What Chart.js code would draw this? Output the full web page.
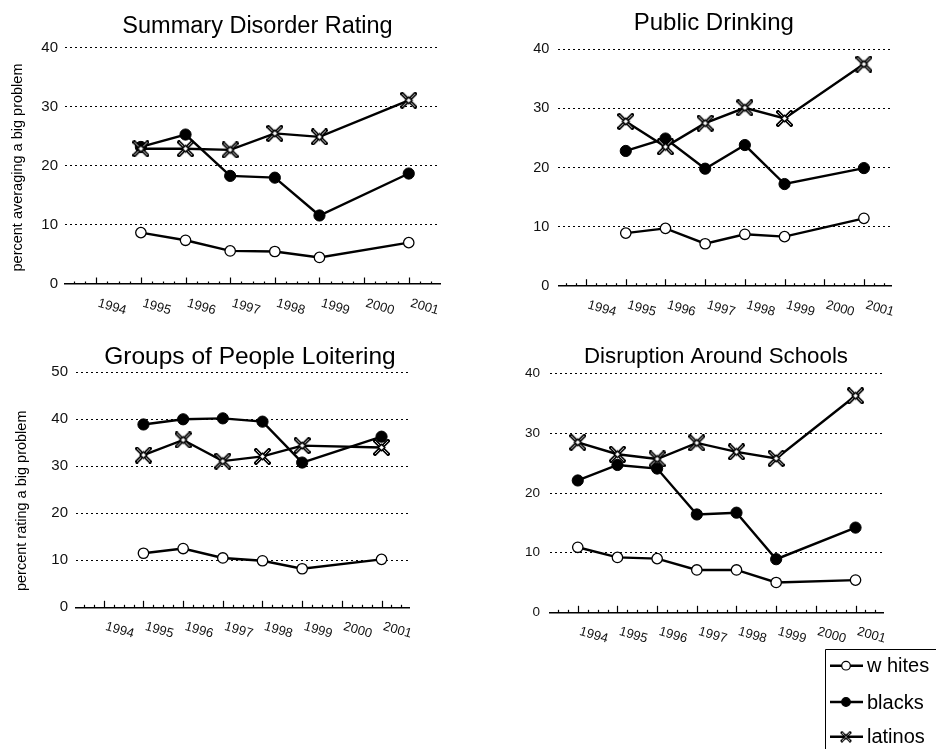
<!DOCTYPE html>
<html>
<head>
<meta charset="utf-8">
<script src="https://cdn.jsdelivr.net/npm/chart.js@4.4.1/dist/chart.umd.min.js"></script>
<style>
  html, body { margin: 0; padding: 0; background: #fff; }
  body { width: 936px; height: 749px; position: relative; overflow: hidden; }
  canvas { position: absolute; }
</style>
</head>
<body>
<canvas id="c1" width="468" height="330" style="left:0;top:0"></canvas>
<canvas id="c2" width="468" height="330" style="left:468px;top:0"></canvas>
<canvas id="c3" width="468" height="330" style="left:0;top:330px"></canvas>
<canvas id="c4" width="468" height="419" style="left:468px;top:330px"></canvas>
<script>
// ---------------- DATA ----------------
const tickYears = [1994, 1995, 1996, 1997, 1998, 1999, 2000, 2001];
const tickLabels = ['1994', '1995', '1996', '1997', '1998', '1999', '2000', '2001'];
const seriesNames = ['w hites', 'blacks', 'latinos'];

const yearsMain = [1995, 1996, 1997, 1998, 1999, 2001];
const yearsSchools = [1994, 1995, 1996, 1997, 1998, 1999, 2001];

const disorderWhites  = [8.7, 7.4, 5.6, 5.5, 4.5, 7.0];
const disorderBlacks  = [23.2, 25.3, 18.3, 18.0, 11.6, 18.7];
const disorderLatinos = [22.9, 22.9, 22.7, 25.5, 24.9, 31.1];

const drinkingWhites  = [8.9, 9.7, 7.1, 8.7, 8.3, 11.4];
const drinkingBlacks  = [22.8, 24.9, 19.8, 23.8, 17.2, 19.9];
const drinkingLatinos = [27.8, 23.5, 27.5, 30.1, 28.3, 37.5];

const loiterWhites  = [11.5, 12.5, 10.5, 9.9, 8.2, 10.2];
const loiterBlacks  = [38.9, 40.0, 40.2, 39.5, 30.8, 36.3];
const loiterLatinos = [32.4, 35.6, 31.1, 32.1, 34.4, 34.0];

const schoolWhites  = [10.9, 9.2, 9.0, 7.1, 7.1, 5.0, 5.4];
const schoolBlacks  = [22.1, 24.7, 24.1, 16.4, 16.7, 8.9, 14.2];
const schoolLatinos = [28.5, 26.5, 25.7, 28.4, 26.9, 25.8, 36.3];

// ---------------- STYLE ----------------
const FONT = "'Liberation Sans', Arial, Helvetica, sans-serif";

function crossMarker(size, w) {
  const c = document.createElement('canvas');
  c.width = c.height = size;
  const g = c.getContext('2d');
  const m = size / 2, r = size / 2 - 2;
  g.lineCap = 'square';
  g.beginPath();
  g.moveTo(m - r, m - r); g.lineTo(m + r, m + r);
  g.moveTo(m + r, m - r); g.lineTo(m - r, m + r);
  g.strokeStyle = '#000'; g.lineWidth = w; g.stroke();
  g.lineCap = 'butt';
  g.strokeStyle = '#fff'; g.lineWidth = 0.8; g.stroke();
  const d = r * 0.5;
  g.beginPath();
  g.moveTo(m, m - d); g.lineTo(m + d, m); g.lineTo(m, m + d); g.lineTo(m - d, m); g.closePath();
  g.fillStyle = '#fff'; g.fill();
  g.strokeStyle = '#000'; g.lineWidth = 1.5; g.stroke();
  return c;
}
const latMarker = crossMarker(17, 3.8);
const latMarkerSmall = crossMarker(12, 2.8);

function makeDatasets(years, w, b, l) {
  const pts = arr => years.map((x, i) => ({ x: x, y: arr[i] }));
  return [
    { label: seriesNames[0], data: pts(w), order: 2, borderColor: '#000', borderWidth: 2.4,
      pointStyle: 'circle', pointRadius: 5.2, pointBackgroundColor: '#fff', pointBorderColor: '#000', pointBorderWidth: 1.3 },
    { label: seriesNames[1], data: pts(b), order: 1, borderColor: '#000', borderWidth: 2.4,
      pointStyle: 'circle', pointRadius: 5.6, pointBackgroundColor: '#000', pointBorderColor: '#000', pointBorderWidth: 1 },
    { label: seriesNames[2], data: pts(l), order: 0, borderColor: '#000', borderWidth: 2.4,
      pointStyle: latMarker, pointRadius: 8 }
  ];
}

const decorPlugin = {
  id: 'decor',
  afterDraw(chart, args, o) {
    const ctx = chart.ctx;
    const xs = chart.scales.x, area = chart.chartArea;
    ctx.save();
    // x axis ticks (upward): majors at years, minors at quarters
    ctx.strokeStyle = '#000';
    ctx.lineWidth = 1.2;
    for (let v = Math.ceil(xs.min * 4) / 4; v <= xs.max + 1e-9; v += 0.25) {
      const px = Math.round(xs.getPixelForValue(v)) + 0.5;
      const major = Math.abs(v - Math.round(v)) < 1e-6;
      ctx.beginPath();
      ctx.moveTo(px, area.bottom);
      ctx.lineTo(px, area.bottom - (major ? 6.5 : 2.5));
      ctx.stroke();
    }
    // rotated x tick labels
    ctx.fillStyle = '#111';
    ctx.font = o.xFont + 'px ' + FONT;
    ctx.textAlign = 'left';
    ctx.textBaseline = 'middle';
    tickYears.forEach((yr, i) => {
      const px = xs.getPixelForValue(yr);
      ctx.save();
      ctx.translate(px + 2, area.bottom + 19);
      ctx.rotate(16 * Math.PI / 180);
      ctx.fillText(tickLabels[i], 0, 0);
      ctx.restore();
    });
    // title
    ctx.font = o.titleFont + 'px ' + FONT;
    ctx.textAlign = 'center';
    ctx.textBaseline = 'alphabetic';
    ctx.fillStyle = '#000';
    ctx.fillText(o.title, o.titleX, o.titleY);
    // y title
    if (o.yTitle) {
      ctx.save();
      ctx.translate(o.yTitleX, o.yTitleY);
      ctx.rotate(-Math.PI / 2);
      ctx.font = o.yTitleFont + 'px ' + FONT;
      ctx.textAlign = 'center';
      ctx.textBaseline = 'middle';
      ctx.fillText(o.yTitle, 0, 0);
      ctx.restore();
    }
    // legend
    if (o.legend) {
      const L = o.legend;
      ctx.strokeStyle = '#000';
      ctx.lineWidth = 1;
      ctx.beginPath();
      ctx.moveTo(L.x + 0.5, chart.height);
      ctx.lineTo(L.x + 0.5, L.y + 0.5);
      ctx.lineTo(chart.width, L.y + 0.5);
      ctx.stroke();
      chart.data.datasets.forEach((ds, i) => {
        const cy = L.rows[i];
        ctx.strokeStyle = '#000';
        ctx.lineWidth = 2.6;
        ctx.beginPath();
        ctx.moveTo(L.x + 5, cy); ctx.lineTo(L.x + 38, cy);
        ctx.stroke();
        const mx = L.x + 21;
        if (i === 2) {
          ctx.drawImage(latMarkerSmall, mx - latMarkerSmall.width / 2, cy - latMarkerSmall.height / 2);
        } else {
          ctx.beginPath();
          ctx.arc(mx, cy, 4.3, 0, Math.PI * 2);
          ctx.fillStyle = i === 0 ? '#fff' : '#000';
          ctx.fill();
          ctx.lineWidth = 1.2;
          ctx.stroke();
        }
        ctx.fillStyle = '#000';
        ctx.font = L.font + 'px ' + FONT;
        ctx.textAlign = 'left';
        ctx.textBaseline = 'middle';
        ctx.fillText(ds.label, L.x + 42, cy + 1);
      });
    }
    ctx.restore();
  }
};

function makeChart(id, geo, datasets, yMax, decor) {
  return new Chart(document.getElementById(id), {
    type: 'line',
    data: { datasets: datasets },
    plugins: [decorPlugin],
    options: {
      responsive: false,
      animation: false,
      events: [],
      layout: { padding: { left: 0, top: geo.top, right: geo.right, bottom: 0 } },
      plugins: { legend: { display: false }, tooltip: { enabled: false }, title: { display: false }, decor: decor },
      elements: { line: { tension: 0 } },
      datasets: { line: { clip: false } },
      scales: {
        x: {
          type: 'linear', min: 1993.3, max: 2001.7,
          ticks: { display: false },
          grid: { display: false },
          border: { display: true, color: '#000', width: 1.5 },
          afterFit: s => { s.height = geo.xH; }
        },
        y: {
          min: 0, max: yMax,
          ticks: { stepSize: 10, padding: geo.tickPad, color: '#111', font: { family: FONT, size: geo.tickFont } },
          grid: { drawTicks: false, color: c => (c.tick && c.tick.value === 0) ? 'rgba(0,0,0,0)' : '#000', lineWidth: 1 },
          border: { display: false, dash: [2, 3] },
          afterFit: s => { s.width = geo.yW; }
        }
      }
    }
  });
}

makeChart('c1', { top: 47.7, right: 28, xH: 46, yW: 65, tickPad: 7, tickFont: 15 },
  makeDatasets(yearsMain, disorderWhites, disorderBlacks, disorderLatinos), 40,
  { title: 'Summary Disorder Rating', titleX: 257.5, titleY: 32.5, titleFont: 23.5, xFont: 13,
    yTitle: 'percent averaging a big problem', yTitleX: 18, yTitleY: 167.5, yTitleFont: 14.5 });

makeChart('c2', { top: 49.3, right: 44.3, xH: 44.3, yW: 90.3, tickPad: 9, tickFont: 14.5 },
  makeDatasets(yearsMain, drinkingWhites, drinkingBlacks, drinkingLatinos), 40,
  { title: 'Public Drinking', titleX: 245.8, titleY: 29.5, titleFont: 24, xFont: 13 });

makeChart('c3', { top: 42.3, right: 58.7, xH: 52.7, yW: 76, tickPad: 8, tickFont: 15 },
  makeDatasets(yearsMain, loiterWhites, loiterBlacks, loiterLatinos), 50,
  { title: 'Groups of People Loitering', titleX: 250, titleY: 34, titleFont: 24.5, xFont: 13,
    yTitle: 'percent rating a big problem', yTitleX: 22, yTitleY: 170.8, yTitleFont: 14.5 });

makeChart('c4', { top: 43.7, right: 52.7, xH: 136.7, yW: 82, tickPad: 10, tickFont: 13.5 },
  makeDatasets(yearsSchools, schoolWhites, schoolBlacks, schoolLatinos), 40,
  { title: 'Disruption Around Schools', titleX: 248, titleY: 33.3, titleFont: 22.3, xFont: 13,
    legend: { x: 357, y: 319, rows: [335.7, 372, 406.7], font: 20 } });
</script>
</body>
</html>
